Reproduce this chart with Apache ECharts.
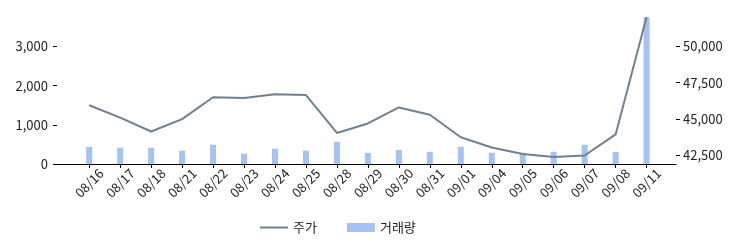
<!DOCTYPE html>
<html>
<head>
<meta charset="utf-8">
<script src="https://cdn.jsdelivr.net/npm/echarts@6/dist/echarts.min.js"></script>
<style>
html,body{margin:0;padding:0;background:#fff;}
#chart{width:743px;height:247px;}
</style>
</head>
<body>
<div id="chart"></div>
<script>
const categories = ['08/16','08/17','08/18','08/21','08/22','08/23','08/24','08/25','08/28','08/29','08/30','08/31','09/01','09/04','09/05','09/06','09/07','09/08','09/11'];
const volume = [440, 415, 415, 340, 490, 265, 390, 340, 565, 285, 360, 310, 440, 285, 285, 310, 490, 310, 3740];
const price = [45950, 45100, 44150, 45000, 46500, 46450, 46700, 46650, 44050, 44700, 45800, 45300, 43750, 43050, 42600, 42400, 42500, 43950, 52000];
const leftTicks = [0, 1000, 2000, 3000];
const rightTicks = [42500, 45000, 47500, 50000];

const idx = categories.map((c, i) => i);
const font = '"Noto Sans CJK KR", "Noto Sans", sans-serif';
const txt = '#222';
const fmt = v => v.toLocaleString('en-US');

const chart = echarts.init(document.getElementById('chart'), null, {renderer: 'canvas'});
chart.setOption({
  animation: false,
  backgroundColor: '#fff',
  textStyle: {fontFamily: font},
  grid: {left: 57, right: 67, top: 10, bottom: 83, containLabel: false},
  legend: {
    left: 255, top: 216,
    itemWidth: 28, itemHeight: 9, itemGap: 30,
    textStyle: {fontSize: 13, color: txt, fontFamily: font},
    data: [{name: '주가', icon: 'path://M0,0 L28,0 L28,2 L0,2 Z'}, {name: '거래량', icon: 'rect'}]
  },
  xAxis: {
    type: 'value',
    min: -1.04, max: 18.95,
    splitLine: {show: false},
    axisLine: {show: true, onZero: false, lineStyle: {color: '#000', width: 1.2}},
    axisTick: {show: true, length: 4, customValues: idx, lineStyle: {color: '#000'}},
    axisLabel: {
      customValues: idx,
      rotate: 45, align: 'center', verticalAlign: 'middle',
      margin: 19, fontSize: 13, color: txt, fontFamily: font,
      formatter: v => categories[Math.round(v)]
    }
  },
  yAxis: [{
    type: 'value', position: 'left',
    min: 0, max: 3927,
    splitLine: {show: false},
    axisLine: {show: false, onZero: false},
    axisTick: {show: true, inside: false, length: 4, customValues: leftTicks, lineStyle: {color: '#000'}},
    axisLabel: {customValues: leftTicks, margin: 9, fontSize: 13, color: txt, fontFamily: font, formatter: fmt}
  }, {
    type: 'value', position: 'right',
    min: 41920, max: 52480,
    splitLine: {show: false},
    axisLine: {show: false, onZero: false},
    axisTick: {show: true, inside: false, length: 4, customValues: rightTicks, lineStyle: {color: '#000'}},
    axisLabel: {customValues: rightTicks, margin: 7, fontSize: 13, color: txt, fontFamily: font, formatter: fmt}
  }],
  series: [{
    name: '거래량', type: 'bar', yAxisIndex: 0, z: 1,
    barWidth: 6,
    itemStyle: {color: '#a4c2f4'},
    data: volume.map((v, i) => [i, v])
  }, {
    name: '주가', type: 'line', yAxisIndex: 1, z: 3,
    symbol: 'none',
    lineStyle: {color: '#708090', width: 2},
    itemStyle: {color: '#708090'},
    data: price.map((v, i) => [i, v])
  }]
});
</script>
</body>
</html>
